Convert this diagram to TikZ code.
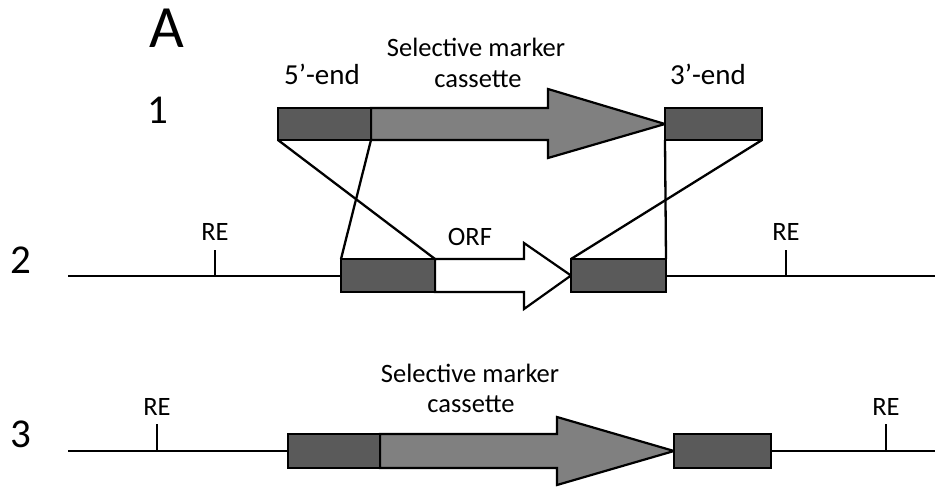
\documentclass[tikz,border=0pt]{standalone}
\usepackage{fontspec}
\setmainfont{Carlito}
\definecolor{darkbox}{HTML}{5A5A5A}
\definecolor{cassgray}{HTML}{808080}
\begin{document}
\begin{tikzpicture}[x=1pt,y=-1pt,
  flank/.style={draw=black,line width=2.2pt,fill=darkbox,inner sep=0pt,outer sep=0pt,minimum height=33pt},
  cass/.style={draw=black,line width=2.2pt,line join=miter,fill=cassgray},
  orf/.style={draw=black,line width=2.2pt,line join=miter,fill=white},
  dna/.style={line width=1.8pt},
  cross/.style={line width=2.3pt},
  tick/.style={line width=2.4pt},
  lbl/.style={font=\fontsize{26.5}{32}\selectfont,anchor=base,inner sep=0pt},
  endlbl/.style={font=\fontsize{29}{34}\selectfont,anchor=base,inner sep=0pt},
  num/.style={font=\fontsize{41}{44}\selectfont,anchor=base,inner sep=0pt}]
\useasboundingbox (0,0) rectangle (935,488);
% labels
\node[font=\fontsize{60}{66}\selectfont,anchor=base,inner sep=0pt] (lA) at (167,47) {A};
\node[num] (n1) at (158,123) {1};
\node[num] (n2) at (21,273) {2};
\node[num] (n3) at (21,447) {3};
\node[endlbl] (t5) at (322,84) {5’-end};
\node[endlbl] (t3) at (708,84) {3’-end};
\node[lbl] (sm1) at (476,56) {Selective marker};
\node[lbl] (cs1) at (478,87) {cassette};
\node[lbl] (orfl) at (470,245) {ORF};
\node[lbl] (sm3) at (470,382) {Selective marker};
\node[lbl] (cs3) at (471,412) {cassette};
\node[lbl] (re2a) at (215,240) {RE};
\node[lbl] (re2b) at (786,240) {RE};
\node[lbl] (re3a) at (157,415) {RE};
\node[lbl] (re3b) at (886,415) {RE};
% DNA lines
\coordinate (d2s) at (68,276); \coordinate (d2e) at (935,276);
\coordinate (d3s) at (68,451); \coordinate (d3e) at (935,451);
\draw[dna] (d2s) -- (d2e);
\draw[dna] (d3s) -- (d3e);
% RE ticks
\coordinate (k2a) at (215,250); \coordinate (k2ab) at (215,276);
\coordinate (k2b) at (786,250); \coordinate (k2bb) at (786,276);
\coordinate (k3a) at (157,424); \coordinate (k3ab) at (157,451);
\coordinate (k3b) at (886,424); \coordinate (k3bb) at (886,451);
\draw[tick] (k2a) -- (k2ab);
\draw[tick] (k2b) -- (k2bb);
\draw[tick] (k3a) -- (k3ab);
\draw[tick] (k3b) -- (k3bb);
% row 1
\draw[cass] (371,108) -- (548,108) -- (548,89) -- (665,124) -- (548,158) -- (548,140) -- (371,140) -- cycle;
\node[flank,minimum width=93pt,minimum height=32pt] (b1L) at (324.5,124) {};
\node[flank,minimum width=97pt,minimum height=32pt] (b1R) at (713.5,124) {};
% row 2
\draw[orf] (435,259) -- (524,259) -- (524,243) -- (571,275.5) -- (524,309) -- (524,292) -- (435,292) -- cycle;
\node[flank,minimum width=94pt] (b2L) at (388,275.5) {};
\node[flank,minimum width=95pt] (b2R) at (618.5,275.5) {};
% row 3
\draw[cass] (380,434) -- (557,434) -- (557,417) -- (674,451) -- (557,485) -- (557,468) -- (380,468) -- cycle;
\node[flank,minimum width=92pt,minimum height=34pt] (b3L) at (334,451) {};
\node[flank,minimum width=97pt,minimum height=34pt] (b3R) at (722.5,451) {};
% crossover lines
\draw[cross] (b1L.south west) -- (b2L.north east);
\draw[cross] (b1L.south east) -- (b2L.north west);
\draw[cross] (b1R.south west) -- (b2R.north east);
\draw[cross] (b1R.south east) -- (b2R.north west);
\end{tikzpicture}
\end{document}
